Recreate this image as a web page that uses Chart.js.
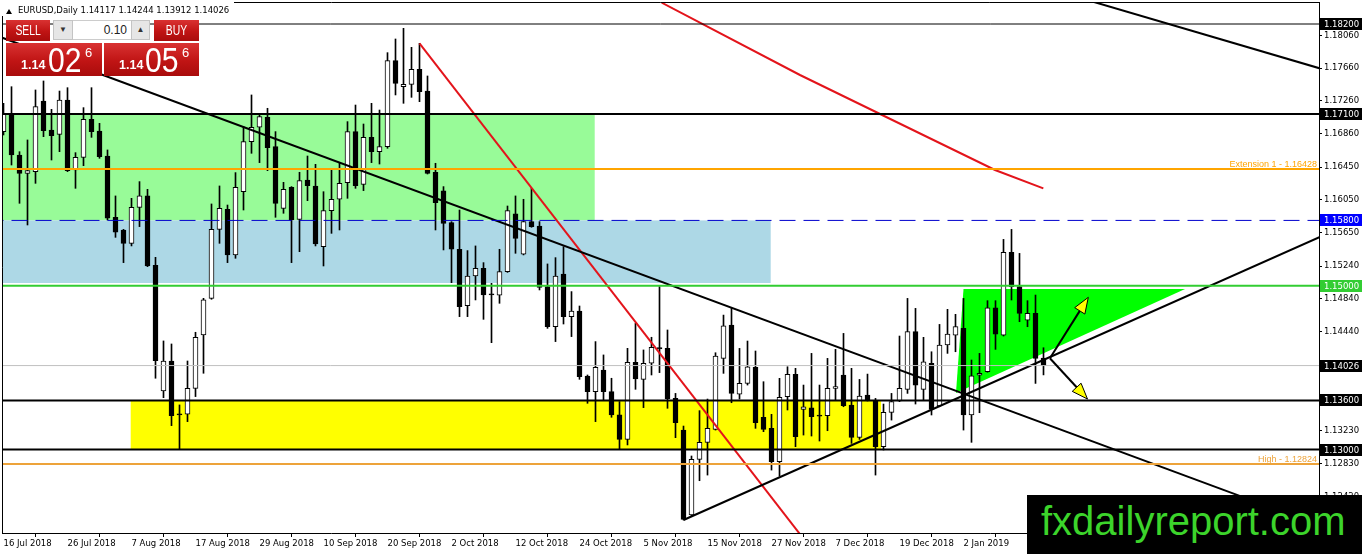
<!DOCTYPE html>
<html><head><meta charset="utf-8">
<script src="https://cdn.jsdelivr.net/npm/chart.js@4/dist/chart.umd.min.js"></script>
<style>
html,body{margin:0;padding:0;background:#fff;overflow:hidden}
#wrap{position:relative;width:1362px;height:554px;background:#fff}
#c{position:absolute;left:0;top:0}
.ov{position:absolute;white-space:nowrap;font-family:'Liberation Sans',Arial,sans-serif}
.red{background:linear-gradient(#d93232,#c01414 55%,#a90c0c);color:#fff}
.btn{font-size:14px;line-height:21px;text-align:center}
.btn span{display:inline-block;transform:scaleX(0.74)}
.grey{background:#e6e6e6;border:1px solid #c4c4c4;box-sizing:border-box;color:#333;font-size:8px;text-align:center;line-height:18px}
.sm{position:absolute;font-weight:bold;font-size:12.5px}
.big{position:absolute;font-size:35px;transform:scaleX(0.86);transform-origin:left top}
.sup{position:absolute;font-size:13px}
</style></head><body>
<div id="wrap">
<canvas id="c" width="1362" height="554"></canvas>
<div class="ov" style="left:0;top:0;width:234px;height:16px;background:#fff"></div>
<div class="ov" style="left:6px;top:9px;width:0;height:0;border-left:3px solid transparent;border-right:3px solid transparent;border-bottom:5px solid #000"></div>
<div class="ov" id="title" style="left:18px;top:5px;font-family:'DejaVu Sans',sans-serif;font-size:8.5px;color:#000"></div>
<div class="ov red btn" style="left:6px;top:20px;width:44px;height:21px"><span>SELL</span></div>
<div class="ov grey" style="left:53px;top:20px;width:20px;height:20px">&#9660;</div>
<div class="ov" style="left:73px;top:20px;width:58px;height:20px;background:#fff;border-top:1px solid #ccc;border-bottom:1px solid #ccc;box-sizing:border-box;text-align:right;font-size:12px;line-height:18px;padding-right:4px;color:#222" id="lot"></div>
<div class="ov grey" style="left:131px;top:20px;width:19px;height:20px">&#9650;</div>
<div class="ov red btn" style="left:154px;top:20px;width:45px;height:21px"><span>BUY</span></div>
<div class="ov red" style="left:6px;top:43px;width:96px;height:33px">
  <span class="sm" style="left:15px;top:15px" id="bidA"></span>
  <span class="big" style="left:42px;top:-3px" id="bidB"></span>
  <span class="sup" style="left:79px;top:2px" id="bidC"></span>
</div>
<div class="ov red" style="left:104px;top:43px;width:95px;height:33px">
  <span class="sm" style="left:15px;top:15px" id="askA"></span>
  <span class="big" style="left:41px;top:-3px" id="askB"></span>
  <span class="sup" style="left:78px;top:2px" id="askC"></span>
</div>
<div class="ov" style="left:1027px;top:495px;width:335px;height:59px;background:#000">
  <div style="position:absolute;left:14px;top:3px;font-size:40px;line-height:46px;color:#3cd42b;font-family:'Liberation Sans',Arial,sans-serif">fxdailyreport.com</div>
</div>
</div>
<script>
// ---------- data ----------
const symbolTitle = 'EURUSD,Daily  1.14117 1.14244 1.13912 1.14026';
const lotSize = '0.10';
const bidParts = ['1.14', '02', '6'];
const askParts = ['1.14', '05', '6'];

const dates = [
'16 Jul 2018','17 Jul 2018','18 Jul 2018','19 Jul 2018','20 Jul 2018','23 Jul 2018','24 Jul 2018','25 Jul 2018','26 Jul 2018','27 Jul 2018','30 Jul 2018','31 Jul 2018',
'1 Aug 2018','2 Aug 2018','3 Aug 2018','6 Aug 2018','7 Aug 2018','8 Aug 2018','9 Aug 2018','10 Aug 2018','13 Aug 2018','14 Aug 2018','15 Aug 2018','16 Aug 2018','17 Aug 2018','20 Aug 2018','21 Aug 2018','22 Aug 2018','23 Aug 2018','24 Aug 2018','27 Aug 2018','28 Aug 2018','29 Aug 2018','30 Aug 2018','31 Aug 2018',
'3 Sep 2018','4 Sep 2018','5 Sep 2018','6 Sep 2018','7 Sep 2018','10 Sep 2018','11 Sep 2018','12 Sep 2018','13 Sep 2018','14 Sep 2018','17 Sep 2018','18 Sep 2018','19 Sep 2018','20 Sep 2018','21 Sep 2018','24 Sep 2018','25 Sep 2018','26 Sep 2018','27 Sep 2018','28 Sep 2018',
'1 Oct 2018','2 Oct 2018','3 Oct 2018','4 Oct 2018','5 Oct 2018','8 Oct 2018','9 Oct 2018','10 Oct 2018','11 Oct 2018','12 Oct 2018','15 Oct 2018','16 Oct 2018','17 Oct 2018','18 Oct 2018','19 Oct 2018','22 Oct 2018','23 Oct 2018','24 Oct 2018','25 Oct 2018','26 Oct 2018','29 Oct 2018','30 Oct 2018','31 Oct 2018',
'1 Nov 2018','2 Nov 2018','5 Nov 2018','6 Nov 2018','7 Nov 2018','8 Nov 2018','9 Nov 2018','12 Nov 2018','13 Nov 2018','14 Nov 2018','15 Nov 2018','16 Nov 2018','19 Nov 2018','20 Nov 2018','21 Nov 2018','22 Nov 2018','23 Nov 2018','26 Nov 2018','27 Nov 2018','28 Nov 2018','29 Nov 2018','30 Nov 2018',
'3 Dec 2018','4 Dec 2018','5 Dec 2018','6 Dec 2018','7 Dec 2018','10 Dec 2018','11 Dec 2018','12 Dec 2018','13 Dec 2018','14 Dec 2018','17 Dec 2018','18 Dec 2018','19 Dec 2018','20 Dec 2018','21 Dec 2018','24 Dec 2018','26 Dec 2018','27 Dec 2018','28 Dec 2018','31 Dec 2018',
'2 Jan 2019','3 Jan 2019','4 Jan 2019','7 Jan 2019','8 Jan 2019','9 Jan 2019','10 Jan 2019','11 Jan 2019','14 Jan 2019','15 Jan 2019','16 Jan 2019'
];

const openP = [
1.16885,1.17100,1.16599,1.16375,1.16396,1.17259,1.16905,1.16852,1.17271,1.16416,
1.16571,1.17035,1.16893,1.16587,1.15838,1.15683,1.15520,1.15960,1.16099,1.15251,
1.13716,1.14082,1.13431,1.13431,1.13748,1.14400,1.14848,1.15691,1.15936,1.15378,
1.16151,1.16762,1.16938,1.17060,1.16701,1.15948,1.16204,1.15813,1.16294,1.16221,
1.15479,1.15919,1.16058,1.16261,1.16885,1.16241,1.16815,1.16640,1.16701,1.17752,
1.17434,1.17463,1.17646,1.17381,1.16388,1.16160,1.15773,1.15447,1.14758,1.15121,
1.15215,1.14897,1.14885,1.15174,1.15879,1.15386,1.15785,1.15732,1.14991,1.14502,
1.15145,1.14624,1.14693,1.13899,1.13708,1.13972,1.13708,1.13423,1.13125,1.14066,
1.13858,1.14054,1.14245,1.14237,1.13625,1.13238,1.12200,1.12880,1.13088,1.13246,
1.14114,1.14521,1.13678,1.13808,1.14004,1.13393,1.13259,1.12851,1.13646,1.13918,
1.13491,1.13511,1.13413,1.13413,1.13747,1.13910,1.13544,1.13149,1.13666,1.13597,
1.13035,1.13454,1.13593,1.13735,1.14440,1.13735,1.14053,1.13532,1.14277,1.14399,
1.14481,1.13422,1.13910,1.13951,1.14733,1.14399,1.15409,1.14990,1.14582,1.14664,
1.14117];
const highP = [
1.17231,1.17434,1.16640,1.16783,1.17394,1.17504,1.17157,1.17381,1.17422,1.16628,
1.17178,1.17422,1.16986,1.16661,1.16099,1.15691,1.16070,1.16274,1.16180,1.15349,
1.14327,1.14290,1.13545,1.14082,1.14433,1.14848,1.16001,1.16221,1.15988,1.16384,
1.16946,1.17333,1.17088,1.17170,1.16885,1.16265,1.16213,1.16388,1.16587,1.16485,
1.16151,1.16416,1.16506,1.17007,1.17210,1.16978,1.17231,1.17149,1.17850,1.18017,
1.18147,1.17915,1.17964,1.17565,1.16498,1.16213,1.15785,1.15927,1.15431,1.15488,
1.15284,1.15031,1.15447,1.15976,1.16099,1.16058,1.16192,1.15785,1.15268,1.15345,
1.15479,1.14930,1.14754,1.13911,1.14319,1.14156,1.13871,1.13586,1.14237,1.14543,
1.14217,1.14372,1.14991,1.14461,1.13686,1.13287,1.12921,1.13475,1.13617,1.14183,
1.14643,1.14733,1.14236,1.14326,1.14204,1.13829,1.13430,1.13870,1.14012,1.13992,
1.13788,1.14175,1.13788,1.14114,1.14224,1.14419,1.13992,1.13857,1.13922,1.13625,
1.13556,1.13686,1.14387,1.14847,1.14725,1.14371,1.14195,1.14529,1.14713,1.14652,
1.14847,1.14094,1.14175,1.14819,1.14819,1.15568,1.15690,1.15397,1.14819,1.14888,
1.14244];
const lowP = [
1.16844,1.16477,1.16009,1.15744,1.16253,1.16823,1.16538,1.16640,1.16396,1.16192,
1.16469,1.16815,1.16559,1.15805,1.15593,1.15284,1.15488,1.15724,1.15235,1.13871,
1.13634,1.13292,1.13003,1.13341,1.13647,1.13932,1.14836,1.15520,1.15284,1.15337,
1.15927,1.16620,1.16506,1.16408,1.15838,1.15887,1.15284,1.15418,1.16041,1.15488,
1.15243,1.15642,1.15683,1.16070,1.16192,1.16164,1.16506,1.16489,1.16681,1.17333,
1.17231,1.17304,1.17251,1.16367,1.15683,1.15439,1.15039,1.14624,1.14624,1.14828,
1.14591,1.14306,1.14787,1.15165,1.15398,1.15378,1.15716,1.14950,1.14481,1.14319,
1.14534,1.14380,1.13858,1.13565,1.13341,1.13606,1.13394,1.13003,1.13056,1.13736,
1.13512,1.13911,1.13940,1.13504,1.13145,1.12139,1.12187,1.12619,1.12688,1.13238,
1.13931,1.13572,1.13617,1.13788,1.13259,1.13218,1.12749,1.12676,1.13483,1.13035,
1.13177,1.13165,1.13104,1.13230,1.13605,1.13523,1.13075,1.13124,1.13593,1.12688,
1.12994,1.13360,1.13585,1.13686,1.13556,1.13605,1.13422,1.13523,1.14175,1.14195,
1.13238,1.13088,1.13450,1.13945,1.14224,1.14387,1.14827,1.14562,1.14501,1.13808,
1.13912];
const closeP = [
1.17100,1.16599,1.16375,1.16408,1.17190,1.16897,1.16836,1.17271,1.16408,1.16571,
1.17035,1.16885,1.16579,1.15826,1.15655,1.15520,1.15960,1.16099,1.15243,1.14086,
1.14082,1.13414,1.13423,1.13748,1.14372,1.14828,1.15691,1.15948,1.15378,1.16204,
1.16762,1.16938,1.17068,1.16689,1.16009,1.16180,1.15805,1.16286,1.16225,1.15512,
1.15919,1.16058,1.16253,1.16885,1.16225,1.16815,1.16640,1.16701,1.17752,1.17475,
1.17463,1.17646,1.17373,1.16375,1.16017,1.15764,1.15447,1.14746,1.15121,1.15215,
1.14889,1.14889,1.15174,1.15919,1.15581,1.15785,1.15724,1.14982,1.14502,1.15121,
1.14624,1.14693,1.13891,1.13708,1.14005,1.13708,1.13423,1.13125,1.14066,1.13862,
1.14054,1.14249,1.14229,1.13618,1.13328,1.12147,1.12880,1.13088,1.13259,1.14142,
1.14513,1.13686,1.13808,1.14012,1.13328,1.13246,1.12851,1.13637,1.13918,1.13157,
1.13523,1.13401,1.13409,1.13747,1.13768,1.13536,1.13149,1.13654,1.13605,1.13035,
1.13454,1.13585,1.13747,1.14440,1.13788,1.14073,1.13491,1.14277,1.14411,1.14501,
1.13422,1.13902,1.13931,1.14733,1.14411,1.15409,1.14990,1.14664,1.14664,1.14114,
1.14026];

const xTickIdx = [0,8,16,24,32,40,48,56,64,72,80,88,96,104,112,120];
const yTickVals = [1.18060,1.17660,1.17260,1.16860,1.16450,1.16050,1.15650,1.15240,1.14840,1.14440,1.13230,1.12830,1.12420];

// horizontal levels
const levelVals = [1.18200, 1.17100, 1.16428, 1.15800, 1.15000, 1.14026, 1.13600, 1.13000, 1.12824];
// boxed price labels on the axis
const boxVals = [1.18200, 1.17100, 1.15800, 1.15000, 1.14026, 1.13600, 1.13000];
// text labels on levels
const levelTextVals = [1.16428, 1.12824];
const levelTexts = ['Extension 1 - 1.16428', 'High - 1.12824'];

// zones: [fromBar, toBar, topPrice, bottomPrice]
const zoneGreen  = [-5, 73.9, 1.17100, 1.15800];
const zoneBlue   = [-5, 95.9, 1.15800, 1.15035];
const zoneYellow = [15.9, 109.7, 1.13600, 1.13000];
// green triangle [bar, price]
const triangle = [[120.0, 1.14962], [147.7, 1.14962], [119.06, 1.13690]];

// trend lines [bar, price]
const trendDown   = [[-1, 1.18063], [165, 1.12054]];
const trendUp     = [[85, 1.12139], [165, 1.15617]];
const trendTopRt  = [[130, 1.18650], [165, 1.17645]];
const redLine1    = [[52, 1.17964], [100, 1.11910]];
const redLine2    = [[82.28, 1.18460], [99.56, 1.17577], [123.94, 1.16416], [129.98, 1.16192]];
// arrows [start, tip]
const arrowUp   = [[130.8, 1.14115], [135.6, 1.14860]];
const arrowDown = [[130.8, 1.14115], [135.5, 1.13617]];

// ---------- html texts ----------
document.getElementById('title').textContent = symbolTitle;
document.getElementById('lot').textContent = lotSize;
['A','B','C'].forEach((s,i)=>{
  document.getElementById('bid'+s).textContent = bidParts[i];
  document.getElementById('ask'+s).textContent = askParts[i];
});

// ---------- chart ----------
const levelStyle = [
  {c:'#000000', w:1, d:[]},
  {c:'#000000', w:2, d:[]},
  {c:'#FFA500', w:2, d:[]},
  {c:'#0000CD', w:1, d:[16,8]},
  {c:'#32CD32', w:2, d:[]},
  {c:'#C0C0C0', w:1, d:[]},
  {c:'#000000', w:2, d:[]},
  {c:'#000000', w:2, d:[]},
  {c:'#EDA33A', w:2, d:[]}
];
const boxColors = ['#000','#000','#0000FF','#32CD32','#000','#000','#000'];
const levelTextColors = ['#FFA500', '#EDA33A'];

function lineDs(pts, color, width, dash){
  return {type:'line', data: pts.map(p=>({x:p[0], y:p[1]})), borderColor:color, borderWidth:width,
    borderDash:dash||[], pointRadius:0, fill:false, tension:0, order:1, clip:0, spanGaps:true};
}

const datasets = [];
datasets.push({
  type:'bar', label:'body',
  data: openP.map((o,i)=>({x:i, y:[o, closeP[i]]})),
  backgroundColor: openP.map((o,i)=> closeP[i] >= o ? '#ffffff' : '#000000'),
  borderColor:'#000', borderWidth:1, borderSkipped:false, barThickness:5,
  grouped:false, minBarLength:1, order:2, clip:0
});
datasets.push({
  type:'bar', label:'wick',
  data: lowP.map((l,i)=>({x:i, y:[l, highP[i]]})),
  backgroundColor:'#000', borderWidth:0, barThickness:1, grouped:false, order:3, clip:0
});
levelVals.forEach((v,i)=>{
  datasets.push(lineDs([[-5,v],[170,v]], levelStyle[i].c, levelStyle[i].w, levelStyle[i].d));
});
datasets.push(lineDs(trendDown, '#000', 2));
datasets.push(lineDs(trendUp, '#000', 2));
datasets.push(lineDs(trendTopRt, '#000', 2));
datasets.push(lineDs(redLine1, '#E3141B', 2));
datasets.push(lineDs(redLine2, '#E3141B', 2));

const FONT = "'DejaVu Sans', sans-serif";

const decor = {
  id:'decor',
  beforeDatasetsDraw(chart){
    const {ctx, chartArea:a, scales:{x, y}} = chart;
    ctx.save();
    ctx.beginPath(); ctx.rect(a.left, a.top, a.right-a.left, a.bottom-a.top); ctx.clip();
    [[zoneGreen,'#98FB98'],[zoneBlue,'#ADD8E6'],[zoneYellow,'#FFFF00']].forEach(([z,c])=>{
      const x0 = x.getPixelForValue(z[0]), x1 = x.getPixelForValue(z[1]);
      const y0 = y.getPixelForValue(z[2]), y1 = y.getPixelForValue(z[3]);
      ctx.fillStyle = c; ctx.fillRect(x0, y0, x1-x0, y1-y0);
    });
    ctx.fillStyle = '#00FF00';
    ctx.beginPath();
    triangle.forEach((p,i)=>{
      const px = x.getPixelForValue(p[0]), py = y.getPixelForValue(p[1]);
      if(i===0) ctx.moveTo(px,py); else ctx.lineTo(px,py);
    });
    ctx.closePath(); ctx.fill();
    ctx.restore();
  },
  afterDatasetsDraw(chart){
    const {ctx, chartArea:a, scales:{x, y}} = chart;
    ctx.save();
    // arrows
    [arrowUp, arrowDown].forEach(ar=>{
      const sx = x.getPixelForValue(ar[0][0]), sy = y.getPixelForValue(ar[0][1]);
      const tx = x.getPixelForValue(ar[1][0]), ty = y.getPixelForValue(ar[1][1]);
      const ang = Math.atan2(ty-sy, tx-sx);
      const L = 16, W = 6;
      const bx = tx - L*Math.cos(ang), by = ty - L*Math.sin(ang);
      ctx.strokeStyle = '#000'; ctx.lineWidth = 2;
      ctx.beginPath(); ctx.moveTo(sx,sy); ctx.lineTo(bx,by); ctx.stroke();
      ctx.beginPath();
      ctx.moveTo(tx,ty);
      ctx.lineTo(bx + W*Math.sin(ang), by - W*Math.cos(ang));
      ctx.lineTo(bx - W*Math.sin(ang), by + W*Math.cos(ang));
      ctx.closePath();
      ctx.fillStyle = '#FFFF00'; ctx.fill();
      ctx.lineWidth = 1; ctx.strokeStyle = '#000'; ctx.stroke();
    });
    // level texts
    ctx.font = "9px 'Liberation Sans', Arial, sans-serif";
    ctx.textAlign = 'right'; ctx.textBaseline = 'alphabetic';
    levelTextVals.forEach((v,i)=>{
      ctx.fillStyle = levelTextColors[i];
      ctx.fillText(levelTexts[i], a.right - 2, y.getPixelForValue(v) - 2);
    });
    // frame
    ctx.strokeStyle = '#000'; ctx.lineWidth = 1;
    ctx.beginPath();
    ctx.moveTo(a.left+0.5, a.bottom); ctx.lineTo(a.left+0.5, a.top+0.5); ctx.lineTo(a.right, a.top+0.5);
    ctx.stroke();
    ctx.restore();
  },
  afterDraw(chart){
    const {ctx, chartArea:a, scales:{y}} = chart;
    ctx.save();
    ctx.font = '8.5px ' + FONT;
    ctx.textAlign = 'left'; ctx.textBaseline = 'middle';
    boxVals.forEach((v,i)=>{
      const py = Math.round(y.getPixelForValue(v));
      ctx.fillStyle = boxColors[i];
      ctx.fillRect(a.right+1, py-6, 1362-a.right-1, 12);
      ctx.fillStyle = '#fff';
      ctx.fillText(v.toFixed(5), a.right+5, py+0.5);
    });
    ctx.restore();
  }
};

new Chart(document.getElementById('c'), {
  type:'bar',
  data:{datasets},
  options:{
    responsive:false, animation:false, devicePixelRatio:1, events:[],
    layout:{padding:{top:2, left:2, right:0, bottom:0}},
    plugins:{legend:{display:false}, tooltip:{enabled:false}},
    scales:{
      x:{
        type:'linear', min:-0.1875, max:164.4375, offset:false,
        afterBuildTicks: s => { s.ticks = xTickIdx.map(v=>({value:v})); },
        afterFit: s => { s.height = 21; s.paddingLeft = 0; s.paddingRight = 0; },
        ticks:{autoSkip:false, maxRotation:0, minRotation:0, align:'start', padding:2, color:'#000',
          font:{family:FONT, size:8.5}, callback: v => dates[v] },
        grid:{drawOnChartArea:false, drawTicks:true, tickLength:4, tickColor:'#000'},
        border:{display:true, color:'#000', width:1}
      },
      y:{
        type:'linear', position:'right', min:1.11980, max:1.18469,
        afterBuildTicks: s => { s.ticks = yTickVals.map(v=>({value:v})); },
        afterFit: s => { s.width = 43; s.paddingTop = 0; s.paddingBottom = 0; },
        ticks:{autoSkip:false, padding:2, color:'#000', font:{family:FONT, size:8.5},
          callback: v => Number(v).toFixed(5)},
        grid:{drawOnChartArea:false, drawTicks:true, tickLength:3, tickColor:'#000'},
        border:{display:true, color:'#000', width:1}
      }
    }
  },
  plugins:[decor]
});
</script>
</body></html>
